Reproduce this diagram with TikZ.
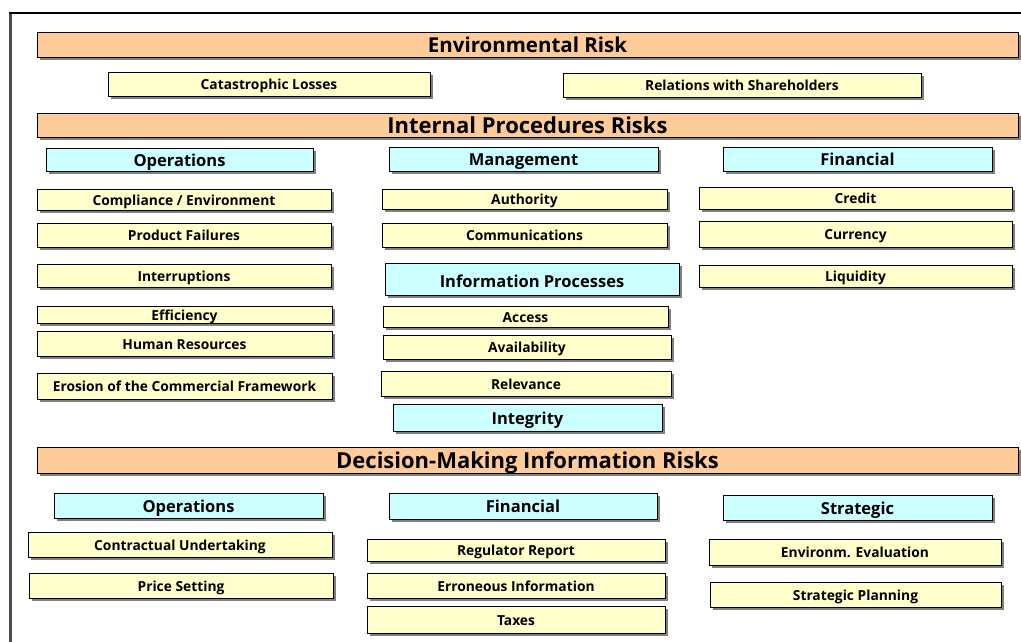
\documentclass[tikz,border=0pt]{standalone}
\usepackage{fontspec}
\setmainfont{Open Sans}
\usetikzlibrary{shadows}

\definecolor{bandfill}{HTML}{FFCC99}
\definecolor{headfill}{HTML}{CCFFFF}
\definecolor{itemfill}{HTML}{FFFFCC}

\tikzset{
  riskbox/.style={draw=black, line width=0.9pt, inner sep=0pt, text depth=0pt,
    drop shadow={shadow xshift=3pt, shadow yshift=-3pt, fill=black!50, opacity=1}},
  band/.style={riskbox, fill=bandfill, text height=17.6pt,
    font=\bfseries\fontsize{22}{24}\selectfont},
  head/.style={riskbox, fill=headfill, text height=13.6pt,
    font=\bfseries\fontsize{16.5}{18}\selectfont},
  item/.style={riskbox, fill=itemfill, text height=11.6pt,
    font=\bfseries\fontsize{13.8}{15}\selectfont},
  sz/.style 2 args={minimum width=#1pt, minimum height=#2pt}
}

\begin{document}
\begin{tikzpicture}[x=1pt, y=-1pt]

  \useasboundingbox (0,0) rectangle (1021,642);
  \fill[white] (0,0) rectangle (1021,642);

  % frame
  \draw[line width=3pt, black!70] (10.5,12) -- (10.5,642);
  \draw[line width=1.5pt, black] (9,13) -- (1021,13);

  % environmental
  \node[band, sz={981}{25}, text height=16.6pt, font=\bfseries\fontsize{20.5}{22}\selectfont] (env) at (527.5,44.5) {Environmental Risk};
  \node[item, sz={322}{24}] (cat) at (269,84) {Catastrophic Losses};
  \node[item, sz={358}{24}] (share) at (742,85) {Relations with Shareholders};

  % internal procedures
  \node[band, sz={981}{24}] (internal) at (527.5,125) {Internal Procedures Risks};

  \node[head, sz={267}{23}] (ops) at (179.5,159.5) {Operations};
  \node[item, sz={294}{21}] (compl) at (184,199.5) {Compliance / Environment};
  \node[item, sz={294}{24}] (prod) at (184,235) {Product Failures};
  \node[item, sz={294}{23}] (interr) at (184,275.5) {Interruptions};
  \node[item, sz={295}{17}] (eff) at (184.5,314.5) {Efficiency};
  \node[item, sz={295}{25}] (hr) at (184.5,343.5) {Human Resources};
  \node[item, sz={295}{26}] (erosion) at (184.5,386) {Erosion of the Commercial Framework};

  \node[head, sz={269}{24}] (mgmt) at (523.5,159) {Management};
  \node[item, sz={285}{20}] (auth) at (524.5,199) {Authority};
  \node[item, sz={285}{24}] (comm) at (524.5,235) {Communications};
  \node[head, sz={294}{32}, text height=17.9pt] (info) at (532,279) {Information Processes};
  \node[item, sz={285}{21}] (access) at (525.5,316.5) {Access};
  \node[item, sz={288}{24}] (avail) at (527,347) {Availability};
  \node[item, sz={290}{25}] (relev) at (526,383.5) {Relevance};
  \node[head, sz={269}{27}] (integ) at (527.5,417.5) {Integrity};

  \node[head, sz={269}{24}] (fin) at (857.5,159) {Financial};
  \node[item, sz={313}{22}] (credit) at (855.5,198) {Credit};
  \node[item, sz={313}{26}] (curr) at (855.5,234) {Currency};
  \node[item, sz={313}{22}] (liq) at (855.5,276) {Liquidity};

  % decision making
  \node[band, sz={981}{26}] (decision) at (527.5,460) {Decision-Making Information Risks};

  \node[head, sz={269}{25}] (dops) at (188.5,505.5) {Operations};
  \node[item, sz={304}{25}] (contract) at (180,544.5) {Contractual Undertaking};
  \node[item, sz={304}{25}] (price) at (181,585.5) {Price Setting};

  \node[head, sz={268}{26}] (dfin) at (523,506) {Financial};
  \node[item, sz={298}{22}] (regul) at (516,550) {Regulator Report};
  \node[item, sz={298}{25}] (erron) at (516,585.5) {Erroneous Information};
  \node[item, sz={298}{27}] (taxes) at (516,619.5) {Taxes};

  \node[head, sz={269}{25}] (strat) at (857.5,507.5) {Strategic};
  \node[item, sz={292}{26}] (enveval) at (855,552) {Environm. Evaluation};
  \node[item, sz={291}{25}] (plan) at (855.5,594.5) {Strategic Planning};

\end{tikzpicture}
\end{document}
